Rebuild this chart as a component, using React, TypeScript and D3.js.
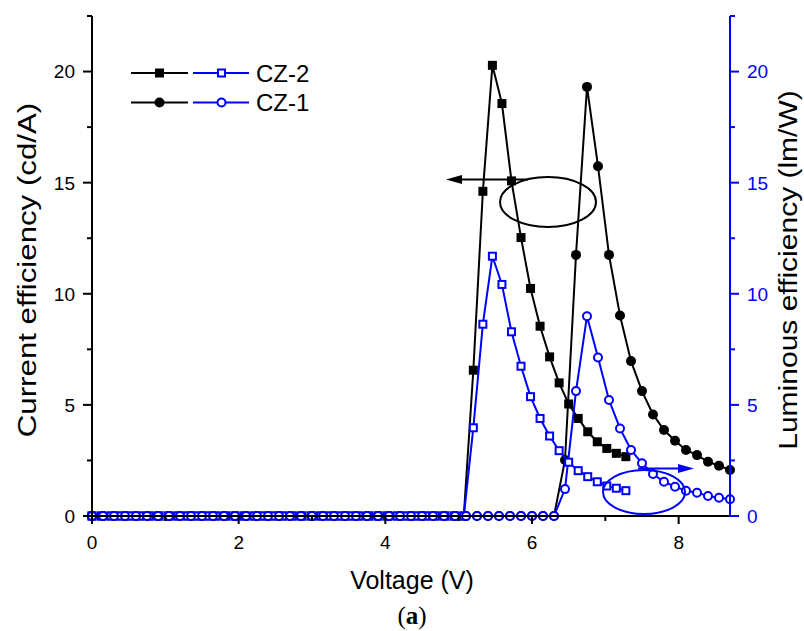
import React from "react";
import * as d3 from "d3";

const voltCZ2 = [0, 0.13, 0.26, 0.39, 0.52, 0.65, 0.78, 0.91, 1.04, 1.17, 1.3, 1.43, 1.56, 1.69, 1.82, 1.95, 2.08, 2.21, 2.34, 2.47, 2.6, 2.73, 2.86, 2.99, 3.12, 3.25, 3.38, 3.51, 3.64, 3.77, 3.9, 4.03, 4.16, 4.29, 4.42, 4.55, 4.68, 4.81, 4.94, 5.07, 5.2, 5.33, 5.46, 5.59, 5.72, 5.85, 5.98, 6.11, 6.24, 6.37, 6.5, 6.63, 6.76, 6.89, 7.02, 7.15, 7.28];
const ceCZ2 = [0, 0, 0, 0, 0, 0, 0, 0, 0, 0, 0, 0, 0, 0, 0, 0, 0, 0, 0, 0, 0, 0, 0, 0, 0, 0, 0, 0, 0, 0, 0, 0, 0, 0, 0, 0, 0, 0, 0, 0, 6.56, 14.61, 20.28, 18.56, 15.08, 12.53, 10.24, 8.54, 7.16, 5.99, 5.04, 4.39, 3.79, 3.34, 3.04, 2.82, 2.67];
const leCZ2 = [0, 0, 0, 0, 0, 0, 0, 0, 0, 0, 0, 0, 0, 0, 0, 0, 0, 0, 0, 0, 0, 0, 0, 0, 0, 0, 0, 0, 0, 0, 0, 0, 0, 0, 0, 0, 0, 0, 0, 0, 3.97, 8.63, 11.69, 10.42, 8.29, 6.74, 5.37, 4.39, 3.6, 2.94, 2.42, 2.04, 1.77, 1.54, 1.35, 1.25, 1.14];

const voltCZ1 = [0, 0.15, 0.3, 0.45, 0.6, 0.75, 0.9, 1.05, 1.2, 1.35, 1.5, 1.65, 1.8, 1.95, 2.1, 2.25, 2.4, 2.55, 2.7, 2.85, 3.0, 3.15, 3.3, 3.45, 3.6, 3.75, 3.9, 4.05, 4.2, 4.35, 4.5, 4.65, 4.8, 4.95, 5.1, 5.25, 5.4, 5.55, 5.7, 5.85, 6.0, 6.15, 6.3, 6.45, 6.6, 6.75, 6.9, 7.05, 7.2, 7.35, 7.5, 7.65, 7.8, 7.95, 8.1, 8.25, 8.4, 8.55, 8.7];
const ceCZ1 = [0, 0, 0, 0, 0, 0, 0, 0, 0, 0, 0, 0, 0, 0, 0, 0, 0, 0, 0, 0, 0, 0, 0, 0, 0, 0, 0, 0, 0, 0, 0, 0, 0, 0, 0, 0, 0, 0, 0, 0, 0, 0, 0, 2.52, 11.75, 19.31, 15.74, 11.75, 9.02, 6.97, 5.62, 4.57, 3.87, 3.39, 2.97, 2.74, 2.44, 2.26, 2.07];
const leCZ1 = [0, 0, 0, 0, 0, 0, 0, 0, 0, 0, 0, 0, 0, 0, 0, 0, 0, 0, 0, 0, 0, 0, 0, 0, 0, 0, 0, 0, 0, 0, 0, 0, 0, 0, 0, 0, 0, 0, 0, 0, 0, 0, 0, 1.21, 5.62, 8.99, 7.13, 5.22, 3.94, 2.97, 2.37, 1.89, 1.54, 1.32, 1.14, 1.05, 0.9, 0.82, 0.75];

const xTicks = [0, 2, 4, 6, 8];
const xMinor = [1, 3, 5, 7];
const yTicks = [0, 5, 10, 15, 20];
const yMinor = [2.5, 7.5, 12.5, 17.5, 22.5];
const legendNames = ["CZ-2", "CZ-1"];

const BLUE = "#0000ff";
const FONT = "'Liberation Sans', Arial, sans-serif";

export default function App() {
  const x = d3.scaleLinear().domain([0, 8.7]).range([92, 730]);
  const y = d3.scaleLinear().domain([0, 22.5]).range([516, 16]);
  const line = d3
    .line<[number, number]>()
    .x((d) => x(d[0]))
    .y((d) => y(d[1]));
  const pts = (v: number[], s: number[]) => v.map((vv, i) => [vv, s[i]] as [number, number]);

  const cz2ce = pts(voltCZ2, ceCZ2);
  const cz2le = pts(voltCZ2, leCZ2);
  const cz1ce = pts(voltCZ1, ceCZ1);
  const cz1le = pts(voltCZ1, leCZ1);

  const [x0, x1] = x.range();
  const [yb, yt] = y.range();
  const titleMid = 270;

  return (
    <svg width={804} height={631} style={{ position: "absolute", left: 0, top: 0, background: "#fff" }} fontFamily={FONT}>
      <rect x={0} y={0} width={804} height={631} fill="#fff" />
      {/* black series */}
      <path d={line(cz2ce) || ""} fill="none" stroke="#000" strokeWidth={2} />
      <path d={line(cz1ce) || ""} fill="none" stroke="#000" strokeWidth={2} />
      {cz2ce.map((d, i) => (
        <rect key={"s" + i} x={x(d[0]) - 4.5} y={y(d[1]) - 4.5} width={9} height={9} fill="#000" />
      ))}
      {cz1ce.map((d, i) => (
        <circle key={"c" + i} cx={x(d[0])} cy={y(d[1])} r={5} fill="#000" />
      ))}
      {/* blue series */}
      <path d={line(cz2le) || ""} fill="none" stroke={BLUE} strokeWidth={2} />
      <path d={line(cz1le) || ""} fill="none" stroke={BLUE} strokeWidth={2} />
      {cz2le.map((d, i) => (
        <rect key={"bs" + i} x={x(d[0]) - 3.5} y={y(d[1]) - 3.5} width={7} height={7} fill="#fff" stroke={BLUE} strokeWidth={2} />
      ))}
      {cz1le.map((d, i) => (
        <circle key={"bc" + i} cx={x(d[0])} cy={y(d[1])} r={4} fill="#fff" stroke={BLUE} strokeWidth={2} />
      ))}

      {/* annotations */}
      <ellipse cx={548} cy={202} rx={48} ry={25} fill="none" stroke="#000" strokeWidth={2} />
      <line x1={528} y1={179.5} x2={458} y2={179.5} stroke="#000" strokeWidth={2} />
      <path d="M446,179.5 L462,175 L462,184 Z" fill="#000" />
      <ellipse cx={644} cy={492} rx={41} ry={22} fill="none" stroke={BLUE} strokeWidth={2} />
      <line x1={638} y1={468.5} x2={682} y2={468.5} stroke={BLUE} strokeWidth={2} />
      <path d="M694,468.5 L678,464 L678,473 Z" fill={BLUE} />

      {/* axes */}
      <line x1={x0} y1={yb} x2={x1} y2={yb} stroke="#000" strokeWidth={2} />
      <line x1={x0} y1={yb + 1} x2={x0} y2={yt} stroke="#000" strokeWidth={2} />
      <line x1={x1} y1={yb + 1} x2={x1} y2={yt} stroke={BLUE} strokeWidth={2} />
      {xTicks.map((t) => (
        <g key={"xt" + t}>
          <line x1={x(t)} x2={x(t)} y1={yb} y2={yb + 8} stroke="#000" strokeWidth={2} />
          <text x={x(t)} y={yb + 33} textAnchor="middle" fontSize={19}>
            {t}
          </text>
        </g>
      ))}
      {xMinor.map((t) => (
        <line key={"xm" + t} x1={x(t)} x2={x(t)} y1={yb} y2={yb + 5} stroke="#000" strokeWidth={2} />
      ))}
      {yTicks.map((t) => (
        <g key={"yt" + t}>
          <line x1={x0 - 9} x2={x0} y1={y(t)} y2={y(t)} stroke="#000" strokeWidth={2} />
          <text x={x0 - 17} y={y(t)} dy="0.36em" textAnchor="end" fontSize={19}>
            {t}
          </text>
          <line x1={x1} x2={x1 + 9} y1={y(t)} y2={y(t)} stroke={BLUE} strokeWidth={2} />
          <text x={x1 + 17} y={y(t)} dy="0.36em" textAnchor="start" fontSize={19} fill={BLUE}>
            {t}
          </text>
        </g>
      ))}
      {yMinor.map((t) => (
        <g key={"ym" + t}>
          <line x1={x0 - 5} x2={x0} y1={y(t)} y2={y(t)} stroke="#000" strokeWidth={2} />
          <line x1={x1} x2={x1 + 5} y1={y(t)} y2={y(t)} stroke={BLUE} strokeWidth={2} />
        </g>
      ))}

      {/* axis titles */}
      <text x={412} y={589} textAnchor="middle" fontSize={25}>
        Voltage (V)
      </text>
      <text x={412} y={624} textAnchor="middle" fontSize={25} fontFamily="'Liberation Serif', 'Times New Roman', serif">
        (<tspan fontWeight="bold">a</tspan>)
      </text>
      <text transform={`translate(36,${titleMid}) rotate(-90) scale(1.25,1)`} textAnchor="middle" fontSize={25}>
        Current efficiency (cd/A)
      </text>
      <text transform={`translate(797,${titleMid}) rotate(-90) scale(1.2,1)`} textAnchor="middle" fontSize={25}>
        Luminous efficiency (lm/W)
      </text>

      {/* legend */}
      {legendNames.map((name, i) => {
        const ly = 73 + i * 29.5;
        return (
          <g key={name}>
            <line x1={131} x2={188} y1={ly} y2={ly} stroke="#000" strokeWidth={2} />
            {i === 0 ? (
              <rect x={159.5 - 4.5} y={ly - 4.5} width={9} height={9} fill="#000" />
            ) : (
              <circle cx={159.5} cy={ly} r={5} fill="#000" />
            )}
            <line x1={193} x2={249} y1={ly} y2={ly} stroke={BLUE} strokeWidth={2} />
            {i === 0 ? (
              <rect x={221.5 - 3.5} y={ly - 3.5} width={7} height={7} fill="#fff" stroke={BLUE} strokeWidth={2} />
            ) : (
              <circle cx={221.5} cy={ly} r={4} fill="#fff" stroke={BLUE} strokeWidth={2} />
            )}
            <text x={256} y={ly} dy="0.36em" fontSize={24}>
              {name}
            </text>
          </g>
        );
      })}
    </svg>
  );
}
